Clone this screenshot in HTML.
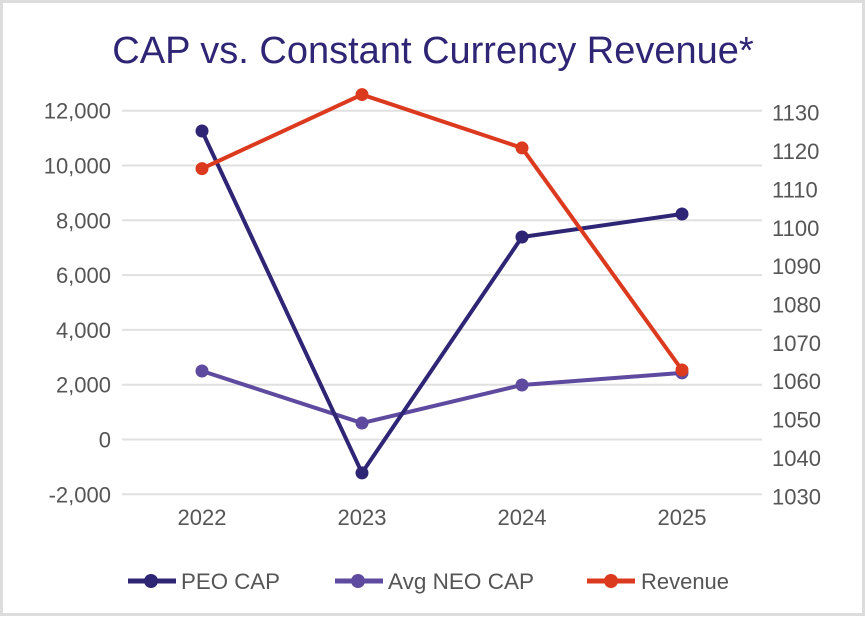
<!DOCTYPE html>
<html><head><meta charset="utf-8"><style>
body{margin:0;background:#fff;}
svg{display:block;font-family:"Liberation Sans",Arial,sans-serif;}
</style></head><body>
<svg id="chart" width="866" height="618" viewBox="0 0 866 618">
<rect x="1.5" y="1.5" width="862" height="613" fill="#fff" stroke="#dcdcdc" stroke-width="3"/>
<text x="433" y="63" text-anchor="middle" font-size="38" fill="#2e2575">CAP vs. Constant Currency Revenue*</text>
<g id="grid"></g><g id="axes"></g><g id="series"></g>
<g>
<g><line x1="128" y1="581" x2="176" y2="581" stroke="#2e2575" stroke-width="5"/><circle cx="151" cy="581" r="7" fill="#2e2575"/><text x="181" y="589" font-size="22" fill="#555" textLength="99" lengthAdjust="spacingAndGlyphs">PEO CAP</text></g>
<g><line x1="335" y1="581" x2="383" y2="581" stroke="#5e4a9e" stroke-width="5"/><circle cx="358" cy="581" r="7" fill="#5e4a9e"/><text x="388" y="589" font-size="22" fill="#555" textLength="146" lengthAdjust="spacingAndGlyphs">Avg NEO CAP</text></g>
<g><line x1="587" y1="581" x2="635" y2="581" stroke="#dc3a1e" stroke-width="5"/><circle cx="611" cy="581" r="7" fill="#dc3a1e"/><text x="641" y="589" font-size="22" fill="#555" textLength="88" lengthAdjust="spacingAndGlyphs">Revenue</text></g>
</g>
</svg>
<script>
const categories=["2022","2023","2024","2025"];
const peoCap=[11260,-1220,7390,8230];
const avgNeoCap=[2500,600,1990,2430];
const revenue=[1114.9,1134.2,1120.3,1062.4];
const leftTicks=[-2000,0,2000,4000,6000,8000,10000,12000];
const rightTicks=[1030,1040,1050,1060,1070,1080,1090,1100,1110,1120,1130];
const NS="http://www.w3.org/2000/svg";
const x0=122,x1=762,yTop=110.7,yBot=494.3;
const xS=i=>x0+(x1-x0)*(i+0.5)/categories.length;
const yL=v=>yBot-(v+2000)/14000*(yBot-yTop);
const yR=v=>yBot-(v-1030)/100*(yBot-yTop);
function mk(tag,attrs,parent){const e=document.createElementNS(NS,tag);for(const k in attrs)e.setAttribute(k,attrs[k]);parent.appendChild(e);return e;}
const grid=document.getElementById('grid'),axes=document.getElementById('axes'),ser=document.getElementById('series');
leftTicks.forEach(v=>{
 const l=mk('line',{x1:x0,x2:x1,y1:yL(v),y2:yL(v),stroke:'#e0e0e0','stroke-width':2},grid);
 
 
 const t=mk('text',{x:111,y:yL(v)+8,'text-anchor':'end','font-size':22,fill:'#555'},axes);
 t.textContent=v.toLocaleString('en-US');
 
 
});
rightTicks.forEach(v=>{
 const t=mk('text',{x:772,y:yR(v)+10,'font-size':22,fill:'#555'},axes);
 t.textContent=v;
 
 
});
categories.forEach((c,i)=>{
 const t=mk('text',{x:xS(i),y:525,'text-anchor':'middle','font-size':22,fill:'#555'},axes);
 t.textContent=c;
 
 
});
function series(vals,yf,color,name){
 const p=mk('polyline',{points:vals.map((v,i)=>xS(i)+','+yf(v)).join(' '),fill:'none',stroke:color,'stroke-width':4,'stroke-linejoin':'round'},ser);
 
 
 vals.forEach((v,i)=>{
  const c=mk('circle',{cx:xS(i),cy:yf(v),r:6.5,fill:color},ser);
  
  
 });
}
series(avgNeoCap,yL,'#5e4a9e','avg-neo-cap');
series(peoCap,yL,'#2e2575','peo-cap');
series(revenue,yR,'#dc3a1e','revenue');
</script>
</body></html>
